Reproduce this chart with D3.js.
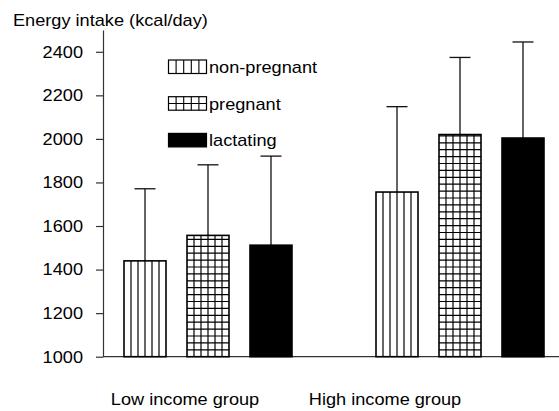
<!DOCTYPE html>
<html>
<head>
<meta charset="utf-8">
<script src="https://cdn.jsdelivr.net/npm/d3@7"></script>
<style>
  html, body { margin: 0; padding: 0; background: #fff; }
  svg { display: block; }
  text { font-family: "Liberation Sans", Arial, sans-serif; fill: #000; }
</style>
</head>
<body>
<svg id="chart" width="559" height="411"></svg>
<script>
// ---- data ----
const groups = ["Low income group", "High income group"];
const series = ["non-pregnant", "pregnant", "lactating"];
const lowMeans = [1440, 1557, 1512];
const highMeans = [1756, 2020, 2004];
const lowSD = [331, 324, 409];
const highSD = [392, 354, 441];
const yTicks = [1000, 1200, 1400, 1600, 1800, 2000, 2200, 2400];
const yTitle = "Energy intake (kcal/day)";

const rows = [];
groups.forEach((g, gi) => {
  const m = gi === 0 ? lowMeans : highMeans;
  const s = gi === 0 ? lowSD : highSD;
  series.forEach((k, si) => rows.push({ group: g, key: k, si, mean: m[si], sd: s[si] }));
});

// ---- layout ----
const svg = d3.select("#chart");
const X0 = 103, Y0 = 356.7, YT = 30;
const FS = 15.8, SX = 1.15;

const y = d3.scaleLinear().domain([1000, 2500]).range([Y0, YT]);
const x0 = d3.scaleBand().domain(groups).range([X0, X0 + 462]).paddingInner(1/3).paddingOuter(1/12);
const x1 = d3.scaleBand().domain(series).range([0, x0.bandwidth()]).paddingInner(1/3).paddingOuter(0);
const bw = x1.bandwidth();

// y axis
const yAxis = svg.append("g").attr("transform", `translate(${X0},0)`)
  .call(d3.axisLeft(y).tickValues(yTicks).tickSize(7).tickSizeOuter(0).tickPadding(13).tickFormat(d3.format("d")));
yAxis.select(".domain").attr("stroke", "#333").attr("stroke-width", 1.2);
yAxis.selectAll(".tick line").attr("stroke", "#333").attr("stroke-width", 1.2);
yAxis.selectAll(".tick text")
  .attr("x", null).attr("dy", "0.34em")
  .attr("transform", `translate(-20,0) scale(${SX},1)`)
  .attr("font-size", FS).attr("font-family", "Liberation Sans, Arial, sans-serif")
  .attr("fill", "#000").attr("text-anchor", "end");

// x axis baseline
svg.append("line").attr("x1", X0).attr("x2", 559).attr("y1", Y0).attr("y2", Y0)
  .attr("stroke", "#333").attr("stroke-width", 1.2);

// title
svg.append("g").attr("transform", `translate(13,26) scale(${SX},1)`)
  .append("text").attr("font-size", FS).text(yTitle);

// bars
const barG = svg.append("g");
const lineW = 1.2;
rows.forEach(d => {
  const bx = x0(d.group) + x1(d.key);
  const by = y(d.mean);
  const bh = Y0 - by;
  const g = barG.append("g");
  // error bar
  const cx = bx + bw / 2;
  const ey = y(d.mean + d.sd);
  g.append("line").attr("x1", cx).attr("x2", cx).attr("y1", by).attr("y2", ey)
    .attr("stroke", "#111").attr("stroke-width", 1.3);
  g.append("line").attr("x1", cx - bw / 4).attr("x2", cx + bw / 4).attr("y1", ey).attr("y2", ey)
    .attr("stroke", "#111").attr("stroke-width", 1.3);
  g.append("rect").attr("x", bx).attr("y", by).attr("width", bw).attr("height", bh)
    .attr("fill", d.si === 2 ? "#000" : "#fff").attr("stroke", "#000").attr("stroke-width", 1.6);
  if (d.si === 0 || d.si === 1) {
    for (let k = 1; k < 6; k++) {
      const lx = bx + k * bw / 6;
      g.append("line").attr("x1", lx).attr("x2", lx).attr("y1", by).attr("y2", Y0)
        .attr("stroke", "#000").attr("stroke-width", lineW);
    }
  }
  if (d.si === 1) {
    const step = 6.9;
    for (let yy = Y0 - step; yy > by + 1; yy -= step) {
      g.append("line").attr("x1", bx).attr("x2", bx + bw).attr("y1", yy).attr("y2", yy)
        .attr("stroke", "#000").attr("stroke-width", lineW);
    }
  }
});

// category labels
const labelCenters = [185, 385];
groups.forEach((g, i) => {
  svg.append("g").attr("transform", `translate(${labelCenters[i]},404.5) scale(${SX},1)`)
    .append("text").attr("font-size", FS).attr("text-anchor", "middle").text(g);
});

// legend
const lg = svg.append("g");
const sw = 38, sh = 13.5, lx0 = 168.5;
series.forEach((k, i) => {
  const ty = 60 + i * 36.7;
  const g = lg.append("g");
  g.append("rect").attr("x", lx0).attr("y", ty).attr("width", sw).attr("height", sh)
    .attr("fill", i === 2 ? "#000" : "#fff").attr("stroke", "#000").attr("stroke-width", 1.2);
  if (i < 2) {
    for (let c = 1; c < 5; c++) {
      g.append("line").attr("x1", lx0 + c * sw / 5).attr("x2", lx0 + c * sw / 5)
        .attr("y1", ty).attr("y2", ty + sh).attr("stroke", "#000").attr("stroke-width", 1.1);
    }
  }
  if (i === 1) {
    g.append("line").attr("x1", lx0).attr("x2", lx0 + sw).attr("y1", ty + sh / 2).attr("y2", ty + sh / 2)
      .attr("stroke", "#000").attr("stroke-width", 1.1);
  }
  g.append("g").attr("transform", `translate(${lx0 + sw + 2.5},${ty + 12.8}) scale(${SX},1)`)
    .append("text").attr("font-size", FS).text(k);
});
</script>
</body>
</html>
